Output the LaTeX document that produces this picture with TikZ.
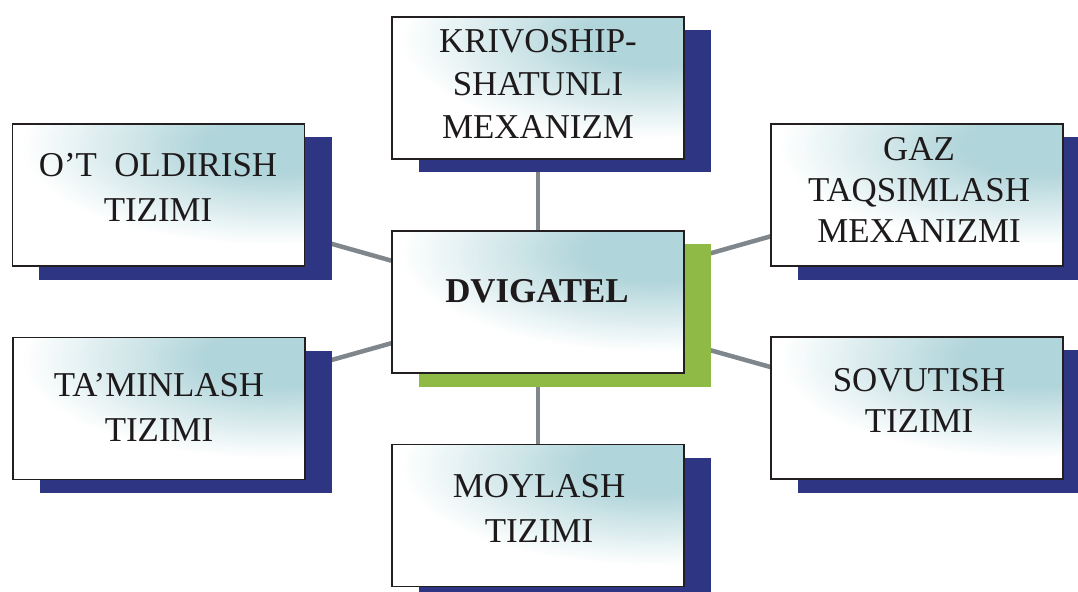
\documentclass[tikz,border=0pt]{standalone}
\usepackage{fontspec}
\setmainfont{Liberation Serif}
\usetikzlibrary{calc}
\definecolor{shteal}{RGB}{176,213,218}
\definecolor{navyshadow}{RGB}{46,53,131}
\definecolor{greenshadow}{RGB}{143,186,69}
\definecolor{linkgray}{RGB}{128,135,140}
\definecolor{edgeblack}{RGB}{35,31,32}
\definecolor{textblack}{RGB}{30,26,27}
\tikzset{
  panel/.style={draw=edgeblack, line width=1.5bp, fill=white,
    minimum width=292bp, minimum height=142bp, inner sep=0pt,
    path picture={
      \foreach \i in {0,...,40}{
        \pgfmathsetmacro\sc{1-\i*0.72/40}
        \pgfmathsetmacro\fr{\i*2.5}
        \fill[shteal!\fr!white] ($(path picture bounding box.north east)+(-30,22)$)
          ellipse ({255*\sc} and {100*\sc});
      }}},
  label35/.style={text=textblack, align=center, inner sep=0pt,
    font=\fontsize{35}{43}\selectfont},
  link/.style={draw=linkgray, line width=4.5bp},
  shadowbox/.style={minimum width=292bp, minimum height=142bp, inner sep=0pt, draw=none}
}
\begin{document}
\begin{tikzpicture}[x=1bp,y=-1bp]
\clip (0,0) rectangle (1078,592);
\fill[white] (0,0) rectangle (1078,592);
% box centres
\coordinate (pT) at (538,88);
\coordinate (pLT) at (158.5,195);
\coordinate (pRT) at (917,195);
\coordinate (pC) at (538,302);
\coordinate (pLB) at (159,408.5);
\coordinate (pRB) at (917,408);
\coordinate (pB) at (538,515.5);
% connectors (behind)
\draw[link] (pC) -- (pT);
\draw[link] (pC) -- (pLT);
\draw[link] (pC) -- (pRT);
\draw[link] (pC) -- (pLB);
\draw[link] (pC) -- (pRB);
\draw[link] (pC) -- (pB);
% shadows
\node[shadowbox, fill=navyshadow] (sT) at ($(pT)+(27,13.5)$) {};
\node[shadowbox, fill=navyshadow] (sLT) at ($(pLT)+(27,13.5)$) {};
\node[shadowbox, fill=navyshadow] (sRT) at ($(pRT)+(27,13.5)$) {};
\node[shadowbox, fill=greenshadow] (sC) at ($(pC)+(27,13.5)$) {};
\node[shadowbox, fill=navyshadow] (sLB) at ($(pLB)+(27,13.5)$) {};
\node[shadowbox, fill=navyshadow] (sRB) at ($(pRB)+(27,13.5)$) {};
\node[shadowbox, fill=navyshadow] (sB) at ($(pB)+(27,13.5)$) {};
% panels
\node[panel] (bT) at (pT) {};
\node[panel] (bLT) at (pLT) {};
\node[panel] (bRT) at (pRT) {};
\node[panel] (bC) at (pC) {};
\node[panel] (bLB) at (pLB) {};
\node[panel] (bRB) at (pRB) {};
\node[panel] (bB) at (pB) {};
% texts
\node[label35] (tT) at (538,84) {KRIVOSHIP-\\SHATUNLI\\MEXANIZM};
\node[label35, font=\fontsize{35}{45}\selectfont] (tLT) at (158,187) {O’T\ \ OLDIRISH\\TIZIMI};
\node[label35, font=\fontsize{35}{41}\selectfont] (tRT) at (919,190) {GAZ\\TAQSIMLASH\\MEXANIZMI};
\node[label35, font=\fontsize{35}{43}\selectfont\bfseries] (tC) at (537,291) {DVIGATEL};
\node[label35, font=\fontsize{35}{45}\selectfont] (tLB) at (159,407) {TA’MINLASH\\TIZIMI};
\node[label35, font=\fontsize{35}{42}\selectfont] (tRB) at (919,400.5) {SOVUTISH\\TIZIMI};
\node[label35, font=\fontsize{35}{45}\selectfont] (tB) at (539,508.5) {MOYLASH\\TIZIMI};
\end{tikzpicture}
\end{document}
